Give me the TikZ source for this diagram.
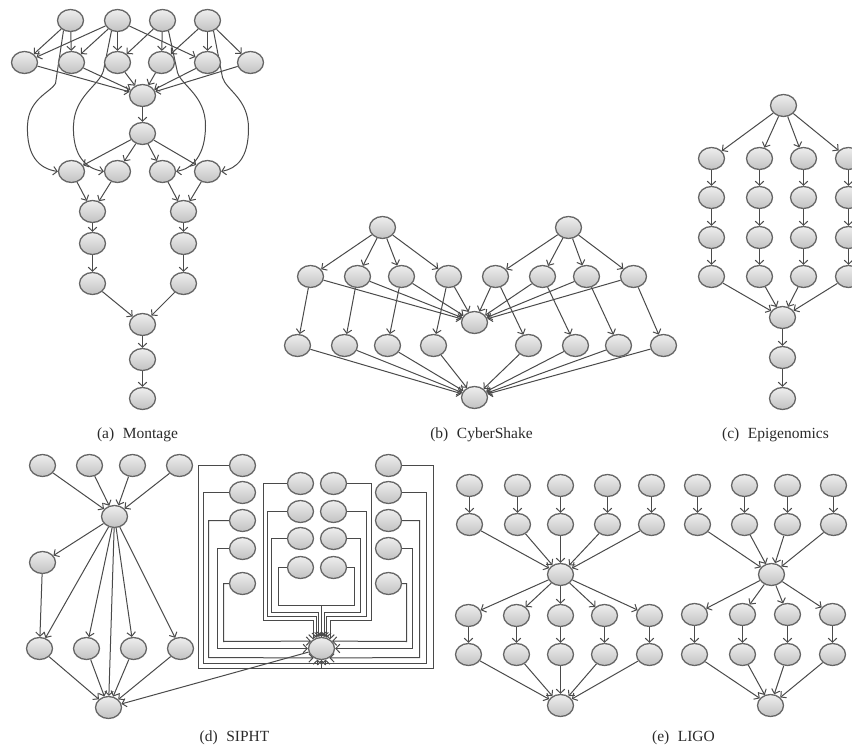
\documentclass[tikz,border=0pt]{standalone}
\usepackage{fontspec}
\setmainfont{Liberation Serif}
\usetikzlibrary{arrows.meta,shapes.geometric}
\pgfdeclarelayer{background}
\pgfsetlayers{background,main}
\definecolor{ndborder}{HTML}{666666}
\definecolor{ndtop}{HTML}{EEEEEE}
\definecolor{ndbot}{HTML}{C2C2C2}
\definecolor{edgec}{HTML}{4A4A4A}
\definecolor{capc}{HTML}{2A2A2A}
\begin{document}
\begin{tikzpicture}[x=1pt,y=-1pt,
  nd/.style={ellipse,draw=ndborder,line width=1.3pt,top color=ndtop,bottom color=ndbot,minimum width=26pt,minimum height=22pt,inner sep=0pt},
  ar/.style={draw=edgec,line width=1pt,-{Straight Barb[length=4pt,width=8.5pt]}},
  captxt/.style={font=\fontsize{15.5}{18}\selectfont,text=capc,inner sep=0pt}]
\useasboundingbox (0,0) rectangle (852,749);
\begin{scope}[shift={(0.5,0.5)}]

% ---------------- (a) Montage ----------------
\foreach \n/\x/\y in {mT1/70/20, mT2/117/20, mT3/162/20, mT4/207/20,
  mS1/24/62, mS2/71/62, mS3/117/62, mS4/161/62, mS5/207/62, mS6/250/62,
  mC1/142/95, mC2/142/133,
  mR1/71/171, mR2/117/171, mR3/162/171, mR4/207/171,
  mM1/92/211, mM2/183/211, mN1/92/243, mN2/183/243, mP1/92/283, mP2/183/283,
  mJ/142/324, mK/142/359, mL/142/398}
  \node[nd] (\n) at (\x,\y) {};

% ---------------- (b) CyberShake ----------------
\node[nd] (cA) at (382,227) {};
\node[nd] (cB) at (568,227) {};
\node[nd] (cC) at (474,322) {};
\node[nd] (cE) at (474,397) {};
\foreach \i/\x in {1/310,2/357,3/401,4/448,5/495,6/542,7/586,8/633}
  \node[nd] (cL\i) at (\x,276) {};
\foreach \i/\x in {1/297,2/344,3/387,4/433,5/528,6/575,7/618,8/663}
  \node[nd] (cD\i) at (\x,345) {};

% ---------------- (c) Epigenomics ----------------
\node[nd] (eA) at (783,105) {};
\foreach \c/\x in {1/711,2/759,3/803,4/848}
  \foreach \r/\y in {1/158,2/197,3/237,4/276}
    \node[nd] (e\c\r) at (\x,\y) {};
\node[nd] (eM) at (782,317) {};
\node[nd] (eN) at (782,357) {};
\node[nd] (eO) at (782,398) {};

% ---------------- (d) SIPHT ----------------
\foreach \i/\x in {1/42,2/89,3/132,4/179}
  \node[nd] (sT\i) at (\x,465) {};
\node[nd] (sH) at (114,516) {};
\node[nd] (sS) at (42,562) {};
\foreach \i/\x in {1/39,2/86,3/133,4/180}
  \node[nd] (sR\i) at (\x,648) {};
\node[nd] (sK) at (108,707) {};

\foreach \i/\y in {1/465,2/492,3/520,4/548,5/583}{
  \node[nd] (pL\i) at (242,\y) {};
  \node[nd] (pR\i) at (388,\y) {};}
\foreach \i/\y in {1/483,2/511,3/538,4/567}{
  \node[nd] (pA\i) at (300,\y) {};
  \node[nd] (pB\i) at (333,\y) {};}
\node[nd] (pH) at (321,648) {};

% ---------------- (e) LIGO ----------------
\foreach \i/\x/\xx in {1/469/468,2/517/516,3/560/560,4/607/604,5/651/649}{
  \node[nd] (gT\i) at (\x,485) {};
  \node[nd] (gU\i) at (\x,524) {};
  \node[nd] (gV\i) at (\xx,615) {};
  \node[nd] (gW\i) at (\xx,654) {};}
\node[nd] (gH) at (560,574) {};
\node[nd] (gK) at (560,705) {};
\foreach \i/\x/\xx in {1/697/694,2/744/742,3/787/787,4/833/832}{
  \node[nd] (hT\i) at (\x,485) {};
  \node[nd] (hU\i) at (\x,524) {};
  \node[nd] (hV\i) at (\xx,614) {};
  \node[nd] (hW\i) at (\xx,654) {};}
\node[nd] (hH) at (771,574) {};
\node[nd] (hK) at (770,705) {};

% ---------------- edges ----------------
\begin{pgfonlayer}{background}
% Montage
\foreach \a/\b in {mT1/mS1, mT1/mS2, mT2/mS1, mT2/mS2, mT2/mS3, mT2/mS5,
  mT3/mS3, mT3/mS4, mT4/mS4, mT4/mS5, mT4/mS6,
  mS1/mC1, mS2/mC1, mS3/mC1, mS4/mC1, mS5/mC1, mS6/mC1, mC1/mC2,
  mC2/mR1, mC2/mR2, mC2/mR3, mC2/mR4, mR1/mM1, mR2/mM1, mR3/mM2, mR4/mM2,
  mM1/mN1, mN1/mP1, mM2/mN2, mN2/mP2, mP1/mJ, mP2/mJ, mJ/mK, mK/mL}
  \draw[ar] (\a) -- (\b);
\draw[ar] (mT1.235) -- (55,83) .. controls (50,92) and (28,98) .. (27,125)
  .. controls (26,155) and (38,168) .. (mR1.west);
\draw[ar] (mT2.240) -- (103,70) .. controls (99,85) and (74,95) .. (73,125)
  .. controls (72,155) and (85,168) .. (mR2.west);
\draw[ar] (mT3.300) -- (177,72) .. controls (181,85) and (205,95) .. (205,125)
  .. controls (205,155) and (192,168) .. (mR3.east);
\draw[ar] (mT4.300) -- (222,77) .. controls (226,90) and (248,98) .. (248,128)
  .. controls (248,158) and (236,168) .. (mR4.east);

% CyberShake
\foreach \i in {1,...,4} \draw[ar] (cA) -- (cL\i);
\foreach \i in {5,...,8} \draw[ar] (cB) -- (cL\i);
\foreach \i in {1,...,8}{
  \draw[ar] (cL\i) -- (cC);
  \draw[ar] (cL\i) -- (cD\i);
  \draw[ar] (cD\i) -- (cE);}

% Epigenomics
\foreach \c in {1,...,4}{
  \draw[ar] (eA) -- (e\c1);
  \draw[ar] (e\c1) -- (e\c2);
  \draw[ar] (e\c2) -- (e\c3);
  \draw[ar] (e\c3) -- (e\c4);
  \draw[ar] (e\c4) -- (eM);}
\draw[ar] (eM) -- (eN);
\draw[ar] (eN) -- (eO);

% SIPHT left
\foreach \i in {1,...,4}{
  \draw[ar] (sT\i) -- (sH);
  \draw[ar] (sH) -- (sR\i);
  \draw[ar] (sR\i) -- (sK);}
\draw[ar] (sH) -- (sS);
\draw[ar] (sS) -- (sR1);
\draw[ar] (sH) -- (sK);
\draw[ar] (pH) -- (sK);

% SIPHT right
\draw[ar] (pL1.west) -| (198,668) -| (pH.south);
\draw[ar] (pL2.west) -| (203,663) -| (pH.250);
\draw[ar] (pL3.west) -| (208,657) -- (pH.230);
\draw[ar] (pL4.west) -| (217,648) -- (pH.west);
\draw[ar] (pL5.west) -| (223,641) -- (pH.145);
\draw[ar] (pR1.east) -| (433,668) -| (pH.south);
\draw[ar] (pR2.east) -| (426,663) -| (pH.290);
\draw[ar] (pR3.east) -| (419,657) -- (pH.310);
\draw[ar] (pR4.east) -| (412,648) -- (pH.east);
\draw[ar] (pR5.east) -| (406,641) -- (pH.35);
\draw[ar] (pA1.west) -| (263,620) -| (pH.133);
\draw[ar] (pB1.east) -| (371,620) -| (pH.47);
\draw[ar] (pA2.west) -| (267,616) -| (pH.116);
\draw[ar] (pB2.east) -| (366,616) -| (pH.64);
\draw[ar] (pA3.west) -| (271,612) -| (pH.103);
\draw[ar] (pB3.east) -| (360,612) -| (pH.77);
\draw[ar] (pA4.west) -| (278,605) -| (pH.north);
\draw[ar] (pB4.east) -| (354,605) -| (pH.north);

% LIGO
\foreach \i in {1,...,5}{
  \draw[ar] (gT\i) -- (gU\i);
  \draw[ar] (gU\i) -- (gH);
  \draw[ar] (gH) -- (gV\i);
  \draw[ar] (gV\i) -- (gW\i);
  \draw[ar] (gW\i) -- (gK);}
\foreach \i in {1,...,4}{
  \draw[ar] (hT\i) -- (hU\i);
  \draw[ar] (hU\i) -- (hH);
  \draw[ar] (hH) -- (hV\i);
  \draw[ar] (hV\i) -- (hW\i);
  \draw[ar] (hW\i) -- (hK);}
\end{pgfonlayer}

% ---------------- captions ----------------
\node[captxt] (capA) at (137,434) {(a)\hspace{0.55em}Montage};
\node[captxt] (capB) at (481,434) {(b)\hspace{0.55em}CyberShake};
\node[captxt] (capC) at (775,434) {(c)\hspace{0.55em}Epigenomics};
\node[captxt] (capD) at (234,737) {(d)\hspace{0.55em}SIPHT};
\node[captxt] (capE) at (683,737) {(e)\hspace{0.55em}LIGO};
\end{scope}
\end{tikzpicture}
\end{document}
